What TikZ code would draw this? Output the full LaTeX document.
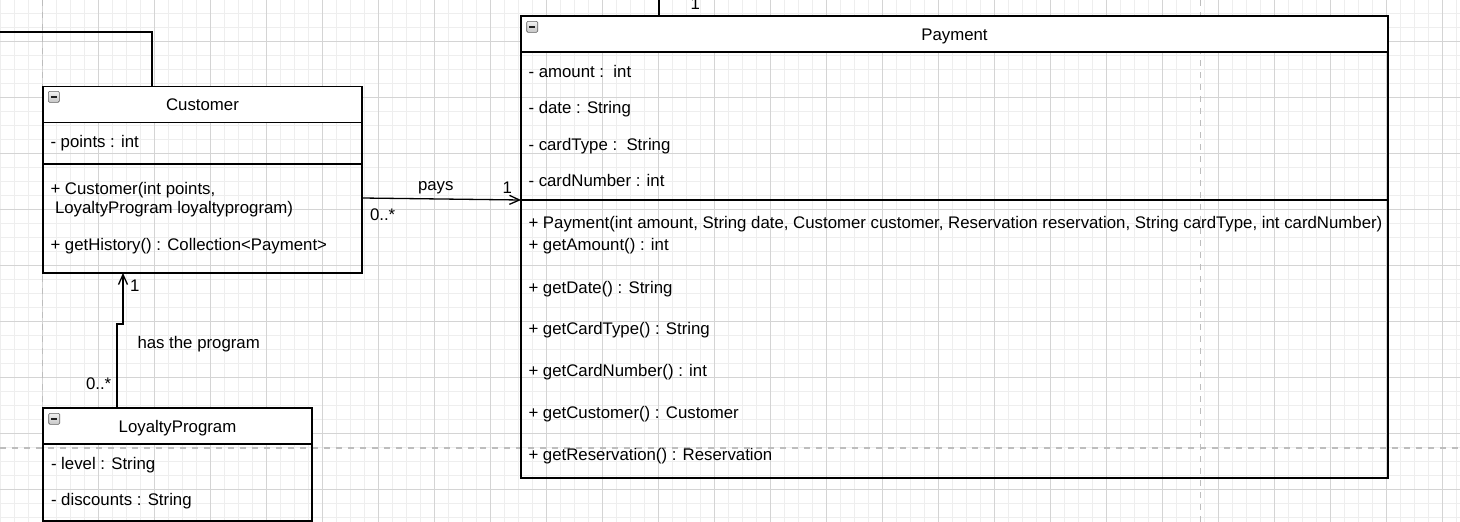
\documentclass[tikz,border=0pt]{standalone}
\usepackage{fontspec}
\setmainfont{Liberation Sans}
\usetikzlibrary{arrows.meta}
\newcommand{\diagfont}{\fontsize{16.8}{20}\selectfont}
\definecolor{gridminor}{HTML}{EEEEEE}
\definecolor{gridmajor}{HTML}{D4D4D4}
\definecolor{pagebreak}{HTML}{BDBDBD}
\begin{document}
\begin{tikzpicture}[x=1pt,y=-1pt,
  every node/.style={inner sep=0pt, outer sep=0pt},
  txt/.style={anchor=base west, font=\diagfont},
  umlbox/.style={draw=black, line width=1.3pt},
  hdr/.style={draw=black, fill=white, line width=1.3pt, font=\diagfont, text height=12pt, text depth=0pt},
  sep/.style={line width=1.3pt},
  conn/.style={line width=1.3pt, draw=black},
  opentip/.style={-{Straight Barb[length=10pt,width=9pt,line width=1.3pt]}},
  icon/.style={draw=gray!75!black, line width=0.6pt, rounded corners=1.2pt, top color=gray!10, bottom color=gray!45, minimum size=11pt},
  minor/.style={draw=gridminor, line width=1pt},
  major/.style={draw=gridmajor, line width=1pt},
  pagebrk/.style={draw=pagebreak, line width=1.5pt, dash pattern=on 6pt off 6pt},
]
\useasboundingbox (0,0) rectangle (1460,522);
\fill[white] (0,0) rectangle (1460,522);
\begin{scope}
\clip (0,0) rectangle (1460,522);
\foreach \i in {0,...,104} \draw[minor] ({0.3+14*\i},0) -- ({0.3+14*\i},522);
\foreach \j in {0,...,38} \draw[minor] (0,{-0.3+14*\j}) -- (1460,{-0.3+14*\j});
\foreach \i in {-1,...,25} \draw[major] ({42.3+56*\i},0) -- ({42.3+56*\i},522);
\foreach \j in {-1,...,9} \draw[major] (0,{41.7+56*\j}) -- (1460,{41.7+56*\j});
\draw[pagebrk] (42.7,0) -- (42.7,522);
\draw[pagebrk] (1200.7,0) -- (1200.7,522);
\draw[pagebrk] (0,448) -- (1460,448);
\end{scope}

% Customer
\node[umlbox, minimum width=319pt, minimum height=186pt] (cust) at (202.5,180) {};
\node[hdr, minimum width=319pt, minimum height=36pt] (custh) at (202.5,104.5) {Customer};
\draw[sep] (43,164) -- (362,164);
\node[icon] (custi) at (53.8,96.8) {};
\draw[line width=1.6pt, gray!25!black] ([xshift=-3pt]custi.center) -- ([xshift=3pt]custi.center);
\node[txt] (ca1) at (50.5,147) {- points : int};
\node[txt] (cm1) at (50.5,194) {+ Customer(int points,};
\node[txt] (cm1b) at (55,213.5) {LoyaltyProgram loyaltyprogram)};
\node[txt] (cm2) at (50.5,250) {+ getHistory() : Collection<Payment>};

% LoyaltyProgram
\node[umlbox, minimum width=269pt, minimum height=113pt] (loy) at (177.5,464.5) {};
\node[hdr, minimum width=269pt, minimum height=36pt] (loyh) at (177.5,426) {LoyaltyProgram};
\node[icon] (loyi) at (54.2,418.8) {};
\draw[line width=1.6pt, gray!25!black] ([xshift=-3pt]loyi.center) -- ([xshift=3pt]loyi.center);
\node[txt] (la1) at (51,469) {- level : String};
\node[txt] (la2) at (51,505) {- discounts : String};

% Payment
\node[umlbox, minimum width=867pt, minimum height=462pt] (pay) at (954.5,247) {};
\node[hdr, minimum width=867pt, minimum height=36pt] (payh) at (954.5,34) {Payment};
\draw[sep] (521,200) -- (1388,200);
\node[icon] (payi) at (532.2,26.8) {};
\draw[line width=1.6pt, gray!25!black] ([xshift=-3pt]payi.center) -- ([xshift=3pt]payi.center);
\node[txt] (pa1) at (528.5,77) {- amount :\ \ int};
\node[txt] (pa2) at (528.5,113.3) {- date : String};
\node[txt] (pa3) at (528.5,150) {- cardType :\ \ String};
\node[txt] (pa4) at (528.5,186) {- cardNumber : int};
\node[txt] (pm1) at (528.5,228.5) {+ Payment(int amount, String date, Customer customer, Reservation reservation, String cardType, int cardNumber)};
\node[txt] (pm2) at (528.5,250) {+ getAmount() : int};
\node[txt] (pm3) at (528.5,293) {+ getDate() : String};
\node[txt] (pm4) at (528.5,334.5) {+ getCardType() : String};
\node[txt] (pm5) at (528.5,376.5) {+ getCardNumber() : int};
\node[txt] (pm6) at (528.5,418.3) {+ getCustomer() : Customer};
\node[txt] (pm7) at (528.5,460) {+ getReservation() : Reservation};

% connector end points
\coordinate (offl) at (0,32);
\coordinate (custtop) at (152,87);
\coordinate (offt) at (659,0);
\coordinate (paytop) at (659,16);
\coordinate (custr) at (362,198);
\coordinate (payl) at (521,200);
\coordinate (loytop) at (117,408);
\coordinate (custbot) at (123,273);

% connectors
\draw[conn] (offl) -| (custtop);
\draw[conn] (offt) -- (paytop);
\draw[conn, opentip] (custr) -- (payl);
\draw[conn, opentip] (loytop) -- ++(0,-84) -| (custbot);

% labels
\node[txt] (l1top) at (690.5,9.3) {1};
\node[txt] (lpays) at (418,190) {pays};
\node[txt] (lpays1) at (502.5,193) {1};
\node[txt] (lpaysm) at (370,220) {0..*};
\node[txt] (lhas) at (137.5,348) {has the program};
\node[txt] (lhasm) at (86,389) {0..*};
\node[txt] (lhas1) at (130,291) {1};
\end{tikzpicture}
\end{document}
